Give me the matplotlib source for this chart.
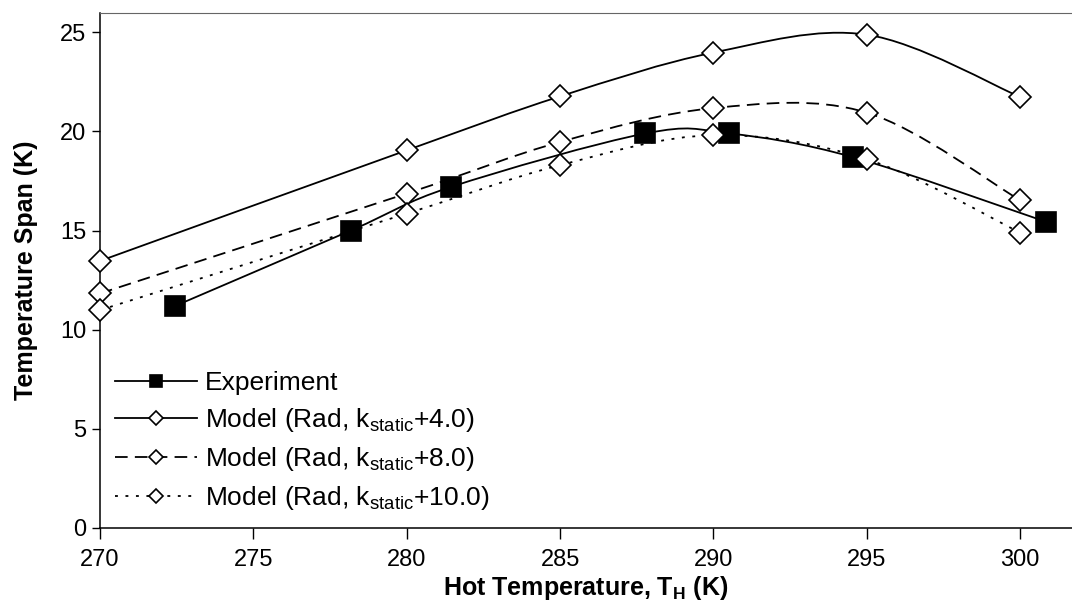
import matplotlib.pyplot as plt
from matplotlib.path import Path
from matplotlib.patches import PathPatch
from matplotlib.lines import Line2D

plt.rcParams["font.family"] = ["Liberation Sans", "DejaVu Sans"]
plt.rcParams["mathtext.fontset"] = "custom"
plt.rcParams["mathtext.rm"] = "Liberation Sans"
plt.rcParams["mathtext.bf"] = "Liberation Sans:bold"

# data
exp_t = [272.45, 278.17, 281.44, 287.78, 290.52, 294.56, 300.83]
exp_span = [11.2, 15.0, 17.2, 19.9, 19.9, 18.7, 15.45]

model_t = [270, 280, 285, 290, 295, 300]
model_k4 = [13.47, 19.05, 21.77, 23.98, 24.88, 21.74]
model_k8 = [11.83, 16.87, 19.47, 21.18, 20.95, 16.53]
model_k10 = [10.99, 15.86, 18.30, 19.81, 18.60, 14.90]

labels = [
    "Experiment",
    r"Model (Rad, k$_{\mathregular{static}}$+4.0)",
    r"Model (Rad, k$_{\mathregular{static}}$+8.0)",
    r"Model (Rad, k$_{\mathregular{static}}$+10.0)",
]


def smooth_path(xs, ys):
    # excel-like smoothed line: cubic bezier segments through the points
    pts = list(zip(xs, ys))
    n = len(pts)
    verts = [pts[0]]
    codes = [Path.MOVETO]
    for i in range(n - 1):
        p0 = pts[i - 1] if i > 0 else pts[i]
        p1 = pts[i]
        p2 = pts[i + 1]
        p3 = pts[i + 2] if i + 2 < n else pts[i + 1]
        c1 = (p1[0] + (p2[0] - p0[0]) / 6, p1[1] + (p2[1] - p0[1]) / 6)
        c2 = (p2[0] - (p3[0] - p1[0]) / 6, p2[1] - (p3[1] - p1[1]) / 6)
        verts += [c1, c2, p2]
        codes += [Path.CURVE4] * 3
    return Path(verts, codes)


fig = plt.figure(figsize=(10.72, 6.07), dpi=100)
ax = fig.add_axes([100 / 1072, 79 / 607, 972 / 1072, 515.5 / 607])

lw = 1.3
dashed = (0, (7, 4))
dotted = (0, (1.6, 4.2))

series = [
    (exp_t, exp_span, "-", "s", "black", 14),
    (model_t, model_k4, "-", "D", "white", 11),
    (model_t, model_k8, dashed, "D", "white", 11),
    (model_t, model_k10, dotted, "D", "white", 11),
]

handles = []
for (xs, ys, ls, mk, fc, ms), lab in zip(series, labels):
    ax.add_patch(PathPatch(smooth_path(xs, ys), fill=False, edgecolor="black",
                           linewidth=lw, linestyle=ls, zorder=2))
    ax.plot(xs, ys, linestyle="none", marker=mk, markersize=ms,
            markerfacecolor=fc, markeredgecolor="black", markeredgewidth=1.2,
            zorder=3, clip_on=False)
    handles.append(Line2D([], [], color="black", linewidth=lw, linestyle=ls,
                          marker=mk, markersize=ms * 0.62, markerfacecolor=fc,
                          markeredgecolor="black", markeredgewidth=1.2,
                          label=lab))

ax.set_xlim(270, 301.69)
ax.set_ylim(0, 26)
ax.set_xticks([270, 275, 280, 285, 290, 295, 300])
ax.set_yticks([0, 5, 10, 15, 20, 25])
ax.tick_params(direction="out", length=6, width=1, labelsize=17, pad=4)
ax.tick_params(axis="x", length=8, pad=7)

ax.spines["right"].set_visible(False)
ax.spines["top"].set_color("#666666")
for s in ["left", "bottom"]:
    ax.spines[s].set_linewidth(1.1)

ax.set_xlabel(r"Hot Temperature, T$_{\mathbf{H}}$ (K)", fontsize=18,
              fontweight="bold", labelpad=2)
ax.set_ylabel("Temperature Span (K)", fontsize=18, fontweight="bold",
              labelpad=16)

ax.legend(handles=handles, loc="lower left", bbox_to_anchor=(0.005, 0.01),
          frameon=False, fontsize=19, handlelength=3.1, handletextpad=0.3,
          labelspacing=0.42, borderaxespad=0)

fig.savefig("out.png", dpi=100)
